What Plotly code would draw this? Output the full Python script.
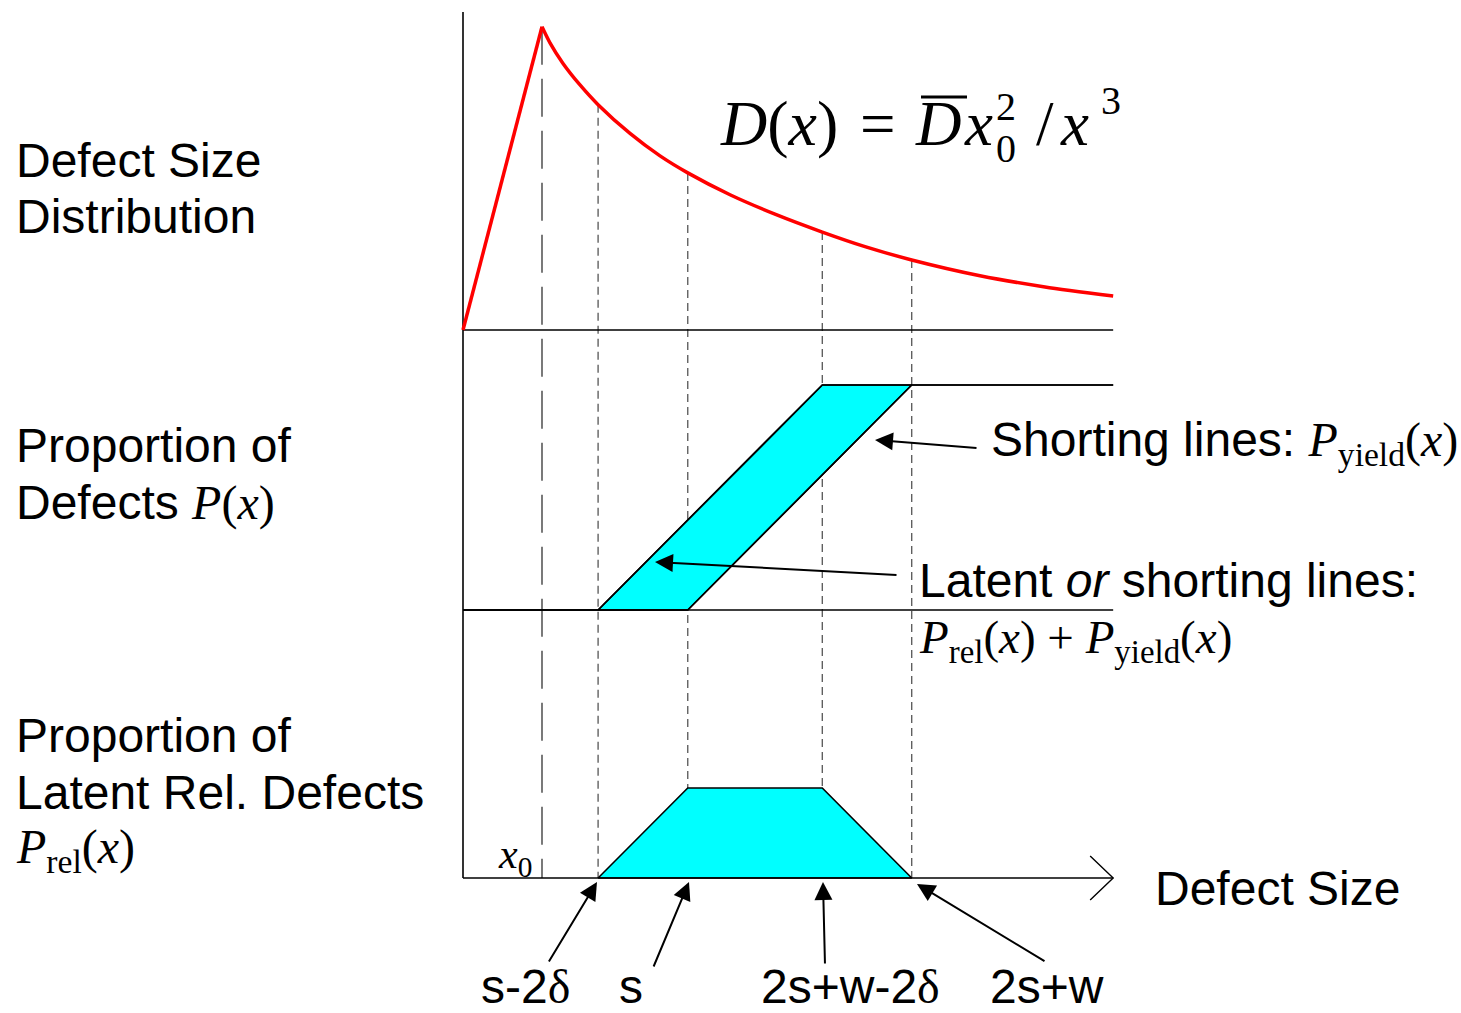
import plotly.graph_objects as go

W, H = 1461, 1013

# ---------------- data (defect size in units of x0) ----------------
X0 = 1.0          # x0
S2D = 1.71        # s-2δ
S = 2.845         # s
SW2D = 4.548      # 2s+w-2δ
SW = 5.68         # 2s+w
XMAX = 8.23       # end of axis

# defect size distribution D(x), normalised to its peak
rise_x = [0.0, X0]
rise_D = [0.0, 1.0]
decay_x = [1.0, 1.101, 1.266, 1.481, 1.71, 2.114, 2.494, 2.845, 3.38, 3.949, 4.548, 5.089, 5.68, 6.544, 7.367, 8.23]
decay_D = [1.0, 0.947, 0.879, 0.808, 0.743, 0.648, 0.574, 0.518, 0.446, 0.382, 0.323, 0.275, 0.231, 0.179, 0.142, 0.112]

# proportion of defects (band between latent-or-shorting and shorting)
upper_x = [0.0, S2D, SW2D, XMAX]
upper_P = [0.0, 0.0, 1.0, 1.0]       # P_rel + P_yield
lower_x = [0.0, S, SW, XMAX]
lower_P = [0.0, 0.0, 1.0, 1.0]       # P_yield

# proportion of latent reliability defects
rel_x = [S2D, S, SW2D, SW]
rel_P = [0.0, 0.40, 0.40, 0.0]

tick_pos = [S2D, S, SW2D, SW]
tick_labels = ['s-2<span style="font-family:Liberation Serif">δ</span>', 's',
               '2s+w-2<span style="font-family:Liberation Serif">δ</span>', '2s+w']

# ---------------- layout of the three panels ----------------
XU = 79.0      # px per size unit
YU = 225.0     # px per proportion unit
BOT = 0.0
MID = (878 - 610) / YU
TOP = (878 - 330) / YU
DSC = 303.3 / YU   # scale of D panel

def D_at(x):
    return decay_D[decay_x.index(x)]

fig = go.Figure()

# dashed guides
fig.add_trace(go.Scatter(x=[X0, X0], y=[TOP + DSC * 1.0, BOT], mode='lines',
                         line=dict(color='#333333', width=1.3, dash='38px,14px'), hoverinfo='skip'))
for xp in tick_pos:
    fig.add_trace(go.Scatter(x=[xp, xp], y=[TOP + DSC * D_at(xp), BOT], mode='lines',
                             line=dict(color='#555555', width=1.3, dash='8px,5px'), hoverinfo='skip'))

# middle band fill
band_x = [upper_x[1], upper_x[2], lower_x[2], lower_x[1], upper_x[1]]
band_y = [MID + upper_P[1], MID + upper_P[2], MID + lower_P[2], MID + lower_P[1], MID + upper_P[1]]
fig.add_trace(go.Scatter(x=band_x, y=band_y, mode='lines', fill='toself', fillcolor='#00FFFF',
                         line=dict(color='black', width=1.6), hoverinfo='skip'))
fig.add_trace(go.Scatter(x=upper_x, y=[MID + v for v in upper_P], mode='lines',
                         line=dict(color='black', width=1.6), hoverinfo='skip'))
fig.add_trace(go.Scatter(x=lower_x, y=[MID + v for v in lower_P], mode='lines',
                         line=dict(color='black', width=1.6), hoverinfo='skip'))

# bottom trapezoid
fig.add_trace(go.Scatter(x=rel_x + [rel_x[0]], y=[BOT + v for v in rel_P] + [BOT + rel_P[0]],
                         mode='lines', fill='toself', fillcolor='#00FFFF',
                         line=dict(color='black', width=1.6), hoverinfo='skip'))

# baselines and vertical axis
for base in (TOP, MID, BOT):
    fig.add_trace(go.Scatter(x=[0, XMAX], y=[base, base], mode='lines',
                             line=dict(color='black', width=1.6), hoverinfo='skip'))
fig.add_trace(go.Scatter(x=[0, 0], y=[BOT, (878 - 12) / YU], mode='lines',
                         line=dict(color='black', width=1.6), hoverinfo='skip'))
# open arrow head at end of size axis
fig.add_trace(go.Scatter(x=[XMAX - 23 / XU, XMAX, XMAX - 23 / XU], y=[BOT + 22 / YU, BOT, BOT - 22 / YU],
                         mode='lines', line=dict(color='black', width=1.4), hoverinfo='skip'))

# defect size distribution curve
fig.add_trace(go.Scatter(x=rise_x, y=[TOP + DSC * v for v in rise_D], mode='lines',
                         line=dict(color='#FF0000', width=3.5), hoverinfo='skip'))
fig.add_trace(go.Scatter(x=decay_x, y=[TOP + DSC * v for v in decay_D], mode='lines',
                         line=dict(color='#FF0000', width=3.5, shape='spline', smoothing=0.7),
                         hoverinfo='skip'))

# ---------------- text ----------------
ann = []

def txt(px, py, text, size=48, family='Liberation Sans', anchor='left'):
    if anchor == 'left':
        px -= 4   # compensate annotation box padding
    ann.append(dict(x=px / W, y=1 - py / H, xref='paper', yref='paper', text=text,
                    showarrow=False, xanchor=anchor, yanchor='middle',
                    font=dict(size=size, family=family, color='black')))

SER = 'Liberation Serif'
sp = lambda s: '<span style="font-family:Liberation Serif">' + s + '</span>'

txt(18, 160, 'Defect Size')
txt(18, 217, 'Distribution')
txt(18, 445, 'Proportion of')
txt(18, 503, 'Defects ' + sp('<i>P</i>(<i>x</i>)'))
txt(18, 735, 'Proportion of')
txt(18, 792, 'Latent Rel. Defects')
txt(18, 850, '<i>P</i><sub>rel</sub>(<i>x</i>)', size=48, family=SER)

txt(993, 443, 'Shorting lines: ' + sp('<i>P</i><sub>yield</sub>(<i>x</i>)'))
txt(921, 580, 'Latent <i>or</i> shorting lines:')
txt(921, 640, '<i>P</i><sub>rel</sub>(<i>x</i>) + <i>P</i><sub>yield</sub>(<i>x</i>)', size=47, family=SER)

txt(500, 857, '<i>x</i><sub>0</sub>', size=42, family=SER)
txt(1157, 888, 'Defect Size')

label_px = [525, 631, 850, 1047]
for lx, lab in zip(label_px, tick_labels):
    txt(lx, 986, lab, anchor='center')

# formula D(x) = D̄ x0^2 / x^3
txt(722, 124, '<i>D</i>(<i>x</i>)', size=64, family=SER)
txt(878, 124, '=', size=63, family=SER, anchor='center')
txt(917, 124, '<i>D</i>', size=63, family=SER)
txt(966, 124, '<i>x</i>', size=63, family=SER)
txt(1006, 106, '2', size=40, family=SER, anchor='center')
txt(1006, 149, '0', size=40, family=SER, anchor='center')
txt(1045, 124, '/', size=63, family=SER, anchor='center')
txt(1062, 124, '<i>x</i>', size=63, family=SER)
txt(1111, 101, '3', size=40, family=SER, anchor='center')

# arrows (tip position, tail offset in px)
arrows = [((875, 440), (103, 8)), ((655, 562), (243, 13)),
          ((597, 882), (-49, 81)), ((689, 882), (-36, 86)),
          ((823, 882), (2, 83)), ((917, 884), (129, 78))]
for (tx, ty), (ax, ay) in arrows:
    ann.append(dict(x=tx / W, y=1 - ty / H, xref='paper', yref='paper', text='',
                    showarrow=True, ax=ax, ay=ay, arrowhead=2, arrowsize=1.8,
                    arrowwidth=2, arrowcolor='black'))

shapes = [dict(type='line', xref='paper', yref='paper', x0=921 / W, x1=967 / W,
               y0=1 - 97 / H, y1=1 - 97 / H, line=dict(color='black', width=3))]

fig.update_layout(
    width=W, height=H, margin=dict(l=0, r=0, t=0, b=0),
    paper_bgcolor='white', plot_bgcolor='white', showlegend=False,
    xaxis=dict(visible=False, range=[-463 / XU, (W - 463) / XU], fixedrange=True),
    yaxis=dict(visible=False, range=[-(H - 878) / YU, 878 / YU], fixedrange=True),
    annotations=ann, shapes=shapes,
)

fig.write_html("out.html", config={'displayModeBar': False},
               post_script="document.body.style.margin='0';")
